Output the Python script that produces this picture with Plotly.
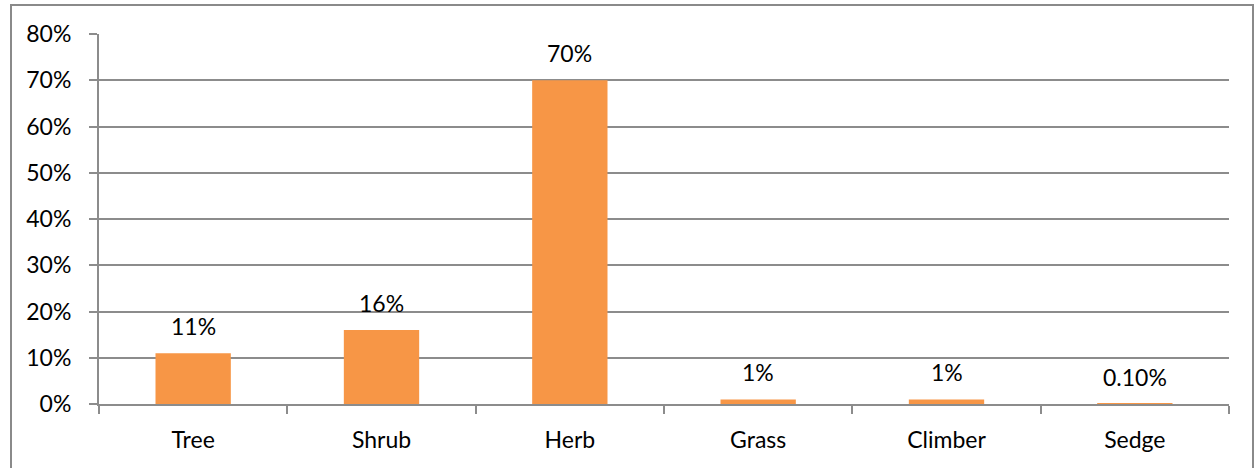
import plotly.graph_objects as go

# Growth-form composition of the recorded species
categories = ["Tree", "Shrub", "Herb", "Grass", "Climber", "Sedge"]
shares = [11, 16, 70, 1, 1, 0.1]
share_labels = ["11%", "16%", "70%", "1%", "1%", "0.10%"]
y_ticks = [0, 10, 20, 30, 40, 50, 60, 70, 80]

W, H = 1254, 468
L, R, T, B = 99, 25, 34, 64
pw, ph = W - L - R, H - T - B

FONT = dict(family="Lato, 'Open Sans', sans-serif", size=23, color="#000000")
GRID = "#8c8c8c"

fig = go.Figure(
    go.Bar(
        x=categories,
        y=shares,
        marker=dict(color="#F79646", line=dict(width=0)),
        width=0.4,
        hoverinfo="skip",
    )
)

for cat, val, lab in zip(categories, shares, share_labels):
    fig.add_annotation(
        x=cat, y=val, text=lab, showarrow=False,
        yanchor="bottom", yshift=11, font=FONT,
    )

# outer frame of the chart
def px_x(v):
    return (v - L) / pw

def px_y(v):
    return (H - B - v) / ph

fig.add_shape(
    type="rect", xref="paper", yref="paper",
    x0=px_x(11), x1=px_x(1253), y0=px_y(5), y1=px_y(480),
    line=dict(color="#8a8a8a", width=2), fillcolor="rgba(0,0,0,0)",
    layer="below",
)

fig.update_layout(
    width=W, height=H,
    margin=dict(l=L, r=R, t=T, b=B, pad=0),
    paper_bgcolor="white", plot_bgcolor="white",
    font=FONT,
    showlegend=False,
    bargap=0.6,
    xaxis=dict(
        showgrid=False,
        showline=True, linecolor=GRID, linewidth=2,
        ticks="outside", tickson="boundaries", ticklen=8,
        tickcolor=GRID, tickwidth=2,
        ticklabelstandoff=14,
        tickfont=FONT,
    ),
    yaxis=dict(
        range=[0, 80],
        tickvals=y_ticks,
        ticktext=[f"{v}%" for v in y_ticks],
        showgrid=True, gridcolor=GRID, gridwidth=2,
        showline=True, linecolor=GRID, linewidth=2,
        ticks="outside", ticklen=8, tickcolor=GRID, tickwidth=2,
        ticklabelstandoff=13,
        zeroline=False,
        tickfont=FONT,
    ),
)

fig.write_html("out.html")
